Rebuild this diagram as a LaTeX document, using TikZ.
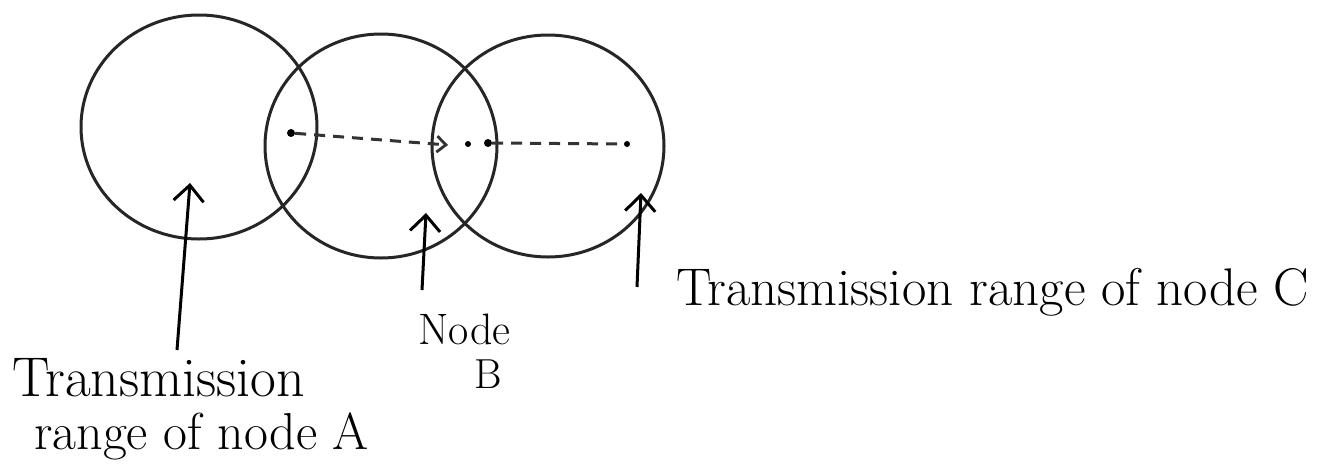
\documentclass[tikz,border=0pt]{standalone}
\usepackage{fontspec}
\usetikzlibrary{arrows.meta}
\tikzset{
  rangecircle/.style={draw=black!85, line width=3pt},
  pointerarrow/.style={draw=black, line width=3pt, -{Straight Barb[length=16pt,width=30pt,line width=3pt]}},
  hopline/.style={draw=black!80, line width=3pt, dash pattern=on 11pt off 8pt},
  nodedot/.style={circle, fill=black, inner sep=0pt, minimum size=8pt},
  handtext/.style={inner sep=0pt, anchor=base west}
}
\begin{document}
\begin{tikzpicture}[x=1pt,y=-1pt]
\useasboundingbox[fill=white] (0,0) rectangle (1326,474);
% transmission ranges
\draw[rangecircle] (199,127) ellipse [x radius=118, y radius=112];
\draw[rangecircle] (381,146) ellipse [x radius=116, y radius=112];
\draw[rangecircle] (548,146) ellipse [x radius=116, y radius=111];
% nodes and hops
\node[nodedot] (a) at (291,133) {};
\coordinate (tipAB) at (448,145);
\node[nodedot, minimum size=6pt] (mid) at (468,144) {};
\node[nodedot] (b) at (488,143) {};
\node[nodedot, minimum size=6pt] (c) at (627,144) {};
\draw[hopline, -{Straight Barb[length=9pt,width=16pt,line width=2.8pt]}] (a) -- (tipAB);
\draw[hopline] (b) -- (c);
% labels
\node[handtext, font=\fontsize{56}{64}\selectfont] (tA1) at (12,396) {Transmission};
\node[handtext, font=\fontsize{52}{60}\selectfont] (tA2) at (34,449) {range of node A};
\node[handtext, font=\fontsize{44}{50}\selectfont] (tB1) at (418,344) {Node};
\node[handtext, font=\fontsize{42}{48}\selectfont] (tB2) at (474,388) {B};
\node[handtext, font=\fontsize{53}{60}\selectfont] (tC) at (676,305) {Transmission range of node C};
% pointers
\coordinate (pA0) at (177,350);
\coordinate (pA1) at (190,183);
\coordinate (pB0) at (422,290);
\coordinate (pB1) at (426,213);
\coordinate (pC0) at (637,287);
\coordinate (pC1) at (641,193);
\draw[pointerarrow] (pA0) -- (pA1);
\draw[pointerarrow] (pB0) -- (pB1);
\draw[pointerarrow] (pC0) -- (pC1);
\end{tikzpicture}
\end{document}
